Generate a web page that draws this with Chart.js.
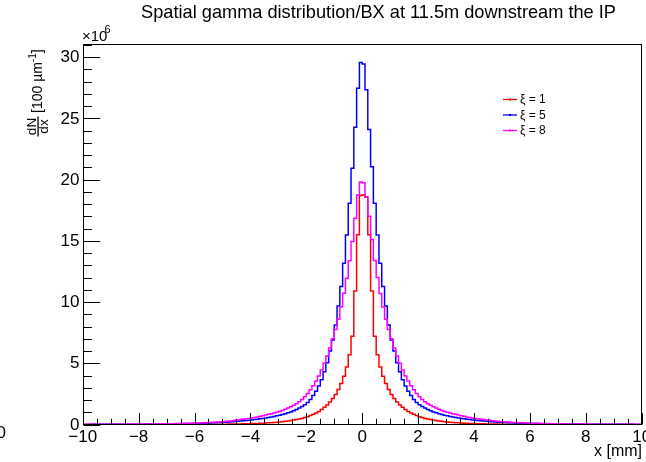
<!DOCTYPE html>
<html>
<head>
<meta charset="utf-8">
<script src="https://cdn.jsdelivr.net/npm/chart.js@4.4.1/dist/chart.umd.min.js"></script>
<style>
  html, body { margin: 0; padding: 0; background: #fff; }
</style>
</head>
<body>
<canvas id="gammaChart" width="646" height="462"></canvas>
<script>
// binning of the histograms: 200 bins of 0.1 mm between -10 and 10 mm
const xLow = -10;
const xHigh = 10;
const binWidth = 0.1;

const xTickValues = [-10, -8, -6, -4, -2, 0, 2, 4, 6, 8, 10];
const yTickValues = [0, 5, 10, 15, 20, 25, 30];

const seriesLabels = ['\u03be = 1', '\u03be = 5', '\u03be = 8'];
const seriesColors = ['#ff0000', '#0000ff', '#ff00ff'];

// dN/dx per bin (x10^6), bin -10.0..-9.9 first
const xi1 = [
  0.002,0.002,0.002,0.002,0.002,0.002,0.002,0.002,0.002,0.002,
  0.002,0.002,0.002,0.002,0.002,0.002,0.002,0.002,0.002,0.003,
  0.003,0.003,0.003,0.003,0.003,0.004,0.004,0.004,0.004,0.005,
  0.005,0.005,0.006,0.006,0.007,0.007,0.008,0.008,0.009,0.01,
  0.011,0.012,0.013,0.014,0.015,0.016,0.017,0.019,0.021,0.023,
  0.025,0.028,0.031,0.034,0.038,0.042,0.047,0.052,0.058,0.065,
  0.072,0.08,0.09,0.1,0.11,0.12,0.135,0.15,0.17,0.19,
  0.21,0.23,0.26,0.29,0.32,0.36,0.4,0.45,0.5,0.57,
  0.64,0.73,0.83,0.94,1.07,1.22,1.4,1.6,1.84,2.12,
  2.45,2.85,3.35,3.95,4.7,5.7,7.2,10.9,15.5,18.7,
  18.75,18.55,15.5,10.9,7.2,5.7,4.7,3.95,3.35,2.85,
  2.45,2.12,1.84,1.6,1.4,1.22,1.07,0.94,0.83,0.73,
  0.64,0.57,0.5,0.45,0.4,0.36,0.32,0.29,0.26,0.23,
  0.21,0.19,0.17,0.15,0.135,0.12,0.11,0.1,0.09,0.08,
  0.072,0.065,0.058,0.052,0.047,0.042,0.038,0.034,0.031,0.028,
  0.025,0.023,0.021,0.019,0.017,0.016,0.015,0.014,0.013,0.012,
  0.011,0.01,0.009,0.008,0.008,0.007,0.007,0.006,0.006,0.005,
  0.005,0.005,0.004,0.004,0.004,0.004,0.003,0.003,0.003,0.003,
  0.003,0.003,0.002,0.002,0.002,0.002,0.002,0.002,0.002,0.002,
  0.002,0.002,0.002,0.002,0.002,0.002,0.002,0.002,0.002,0.002
];

const xi5 = [
  0.01,0.01,0.01,0.011,0.012,0.013,0.014,0.015,0.016,0.017,
  0.018,0.019,0.02,0.021,0.022,0.023,0.024,0.025,0.026,0.027,
  0.028,0.03,0.032,0.034,0.036,0.038,0.04,0.043,0.046,0.049,
  0.052,0.055,0.058,0.062,0.066,0.07,0.075,0.08,0.085,0.09,
  0.095,0.1,0.11,0.115,0.12,0.13,0.14,0.15,0.16,0.17,
  0.18,0.19,0.21,0.22,0.24,0.26,0.28,0.3,0.32,0.34,
  0.37,0.4,0.43,0.46,0.5,0.54,0.58,0.62,0.66,0.71,
  0.76,0.82,0.88,0.95,1.03,1.12,1.22,1.34,1.47,1.62,
  1.8,2.05,2.36,2.72,3.15,3.65,4.3,5.05,6.0,6.9,
  8.13,9.68,11.26,13.17,15.48,18.07,20.93,24.28,27.47,29.56,
  29.45,27.33,24.1,21.06,18.07,15.48,13.17,11.26,9.68,8.13,
  6.9,6.0,5.05,4.3,3.65,3.15,2.72,2.36,2.05,1.8,
  1.62,1.47,1.34,1.22,1.12,1.03,0.95,0.88,0.82,0.76,
  0.71,0.66,0.62,0.58,0.54,0.5,0.46,0.43,0.4,0.37,
  0.34,0.32,0.3,0.28,0.26,0.24,0.22,0.21,0.19,0.18,
  0.17,0.16,0.15,0.14,0.13,0.12,0.115,0.11,0.1,0.095,
  0.09,0.085,0.08,0.075,0.07,0.066,0.062,0.058,0.055,0.052,
  0.049,0.046,0.043,0.04,0.038,0.036,0.034,0.032,0.03,0.028,
  0.027,0.026,0.025,0.024,0.023,0.022,0.021,0.02,0.019,0.018,
  0.017,0.016,0.015,0.014,0.013,0.012,0.011,0.01,0.01,0.01
];

const xi8 = [
  0.011,0.012,0.013,0.014,0.015,0.016,0.017,0.018,0.019,0.02,
  0.021,0.022,0.023,0.024,0.025,0.026,0.027,0.028,0.03,0.032,
  0.034,0.036,0.038,0.04,0.042,0.045,0.048,0.051,0.054,0.057,
  0.06,0.065,0.07,0.075,0.08,0.085,0.09,0.095,0.1,0.11,
  0.12,0.13,0.14,0.15,0.16,0.17,0.18,0.2,0.21,0.23,
  0.25,0.27,0.29,0.31,0.34,0.37,0.4,0.43,0.46,0.5,
  0.54,0.58,0.62,0.67,0.72,0.77,0.83,0.88,0.94,1.0,
  1.07,1.15,1.24,1.34,1.45,1.57,1.7,1.86,2.04,2.27,
  2.53,2.83,3.17,3.55,3.97,4.45,5.0,5.6,6.25,7.0,
  7.75,8.6,9.62,10.72,11.94,13.38,14.94,16.85,18.75,19.8,
  19.75,18.6,17.0,15.1,13.4,12.0,10.7,9.6,8.6,7.75,
  7.0,6.25,5.6,5.0,4.45,3.97,3.55,3.17,2.83,2.53,
  2.27,2.04,1.86,1.7,1.57,1.45,1.34,1.24,1.15,1.07,
  1.0,0.94,0.88,0.83,0.77,0.72,0.67,0.62,0.58,0.54,
  0.5,0.46,0.43,0.4,0.37,0.34,0.31,0.29,0.27,0.25,
  0.23,0.21,0.2,0.18,0.17,0.16,0.15,0.14,0.13,0.12,
  0.11,0.1,0.095,0.09,0.085,0.08,0.075,0.07,0.065,0.06,
  0.057,0.054,0.051,0.048,0.045,0.042,0.04,0.038,0.036,0.034,
  0.032,0.03,0.028,0.027,0.026,0.025,0.024,0.023,0.022,0.021,
  0.02,0.019,0.018,0.017,0.016,0.015,0.014,0.013,0.012,0.011
];

const FONT = '"Liberation Sans", Arial, sans-serif';

// one point per bin low edge + a closing point at the high edge;
// stepped 'before' keeps each bin's value until the next edge
function histPoints(values) {
  const pts = values.map((v, i) => ({ x: +(xLow + i * binWidth).toFixed(2), y: v }));
  pts.push({ x: xHigh, y: values[values.length - 1] });
  return pts;
}

function axisNum(v) {
  return v < 0 ? '\u2212' + Math.abs(v) : String(v);
}

// ROOT-like frame, inward ticks, labels, titles and legend
const rootDecor = {
  id: 'rootDecor',
  afterDraw(chart) {
    const ctx = chart.ctx;
    const a = chart.chartArea;
    const xs = chart.scales.x;
    const ys = chart.scales.y;
    ctx.save();
    ctx.strokeStyle = '#000';
    ctx.lineWidth = 1;

    // frame
    const L = Math.round(a.left) + 0.5, R = Math.round(a.right) - 0.5;
    const T = Math.round(a.top) + 0.5, B = Math.round(a.bottom) - 0.5;
    ctx.strokeRect(L, T, R - L, B - T);

    // x ticks (major every 2, minor every 0.5)
    ctx.beginPath();
    for (let v = xs.min; v <= xs.max + 1e-9; v += 0.5) {
      const px = Math.round(xs.getPixelForValue(v)) + 0.5;
      const major = Math.abs(v / 2 - Math.round(v / 2)) < 1e-9;
      ctx.moveTo(px, B);
      ctx.lineTo(px, B - (major ? 11.4 : 5.7));
    }
    // y ticks (major every 5, minor every 1)
    for (let v = 0; v <= ys.max + 1e-9; v += 1) {
      const py = Math.round(ys.getPixelForValue(v)) + 0.5;
      const major = v % 5 === 0;
      ctx.moveTo(L, py);
      ctx.lineTo(L + (major ? 16.8 : 8.4), py);
    }
    ctx.stroke();

    ctx.fillStyle = '#000';
    // tick labels from the scales' ticks
    ctx.font = '17px ' + FONT;
    ctx.textAlign = 'center';
    ctx.textBaseline = 'middle';
    xs.ticks.forEach(t => {
      ctx.fillText(axisNum(t.value), xs.getPixelForValue(t.value), 437);
    });
    ctx.textAlign = 'right';
    ys.ticks.forEach(t => {
      ctx.fillText(axisNum(t.value), 79.5, ys.getPixelForValue(t.value) + 0.5);
    });

    // title
    ctx.font = '18.2px ' + FONT;
    ctx.textAlign = 'center';
    ctx.fillText('Spatial gamma distribution/BX at 11.5m downstream the IP', 378.5, 13);

    // exponent
    ctx.textAlign = 'left';
    ctx.textBaseline = 'alphabetic';
    ctx.font = '15px ' + FONT;
    ctx.fillText('\u00d710', 82, 41);
    ctx.font = '11px ' + FONT;
    ctx.fillText('6', 104.5, 33);

    // x title
    ctx.font = '16px ' + FONT;
    ctx.textAlign = 'right';
    ctx.textBaseline = 'middle';
    ctx.fillText('x [mm]', 642, 452);

    // stray label at the left edge
    ctx.font = '17px ' + FONT;
    ctx.fillText('0', 6, 433);

    // y title, rotated
    ctx.save();
    ctx.translate(38, 0);
    ctx.rotate(-Math.PI / 2);
    ctx.textBaseline = 'middle';
    ctx.textAlign = 'center';
    ctx.font = '13.5px ' + FONT;
    ctx.fillText('dN', -126.5, -6);
    ctx.fillText('dx', -126.5, 6.5);
    ctx.fillRect(-136.5, -0.6, 20, 1.3);
    ctx.textAlign = 'left';
    ctx.font = '14px ' + FONT;
    let tx = -113;
    ctx.fillText('[100 \u00b5m', tx, 0);
    tx += ctx.measureText('[100 \u00b5m').width;
    ctx.font = '10px ' + FONT;
    ctx.fillText('-1', tx, -5);
    tx += ctx.measureText('-1').width;
    ctx.font = '14px ' + FONT;
    ctx.fillText(']', tx, 0);
    ctx.restore();

    // legend
    const rows = [99.5, 115, 130.5];
    chart.data.datasets.forEach((ds, i) => {
      const y = rows[i];
      ctx.strokeStyle = ds.borderColor;
      ctx.lineWidth = 1.3;
      ctx.beginPath();
      ctx.moveTo(503, y);
      ctx.lineTo(517, y);
      ctx.stroke();
      ctx.fillStyle = ds.borderColor;
      ctx.fillRect(509, y - 1, 2, 2);
      ctx.fillStyle = '#000';
      ctx.font = '12px ' + FONT;
      ctx.textAlign = 'left';
      ctx.textBaseline = 'middle';
      ctx.fillText(ds.label, 520, y + 0.5);
    });
    ctx.restore();
  }
};

const seriesData = [xi1, xi5, xi8];

new Chart(document.getElementById('gammaChart'), {
  type: 'line',
  data: {
    datasets: seriesData.map((vals, i) => ({
      label: seriesLabels[i],
      data: histPoints(vals),
      borderColor: seriesColors[i],
      borderWidth: 1.5,
      stepped: 'before',
      pointRadius: 0,
      fill: false,
      order: 3 - i
    }))
  },
  options: {
    responsive: false,
    animation: false,
    events: [],
    layout: { padding: { top: 44.3, right: 4.3, left: 0, bottom: 0 } },
    plugins: {
      legend: { display: false },
      tooltip: { enabled: false }
    },
    scales: {
      x: {
        type: 'linear',
        min: xLow,
        max: xHigh,
        grid: { display: false, drawTicks: false },
        border: { display: false },
        ticks: { display: false },
        afterBuildTicks: s => { s.ticks = xTickValues.map(v => ({ value: v })); },
        afterFit: s => { s.height = 37.5; s.paddingLeft = 0; s.paddingRight = 0; }
      },
      y: {
        min: 0,
        max: 31.05,
        grid: { display: false, drawTicks: false },
        border: { display: false },
        ticks: { display: false },
        afterBuildTicks: s => { s.ticks = yTickValues.map(v => ({ value: v })); },
        afterFit: s => { s.width = 82.7; s.paddingTop = 0; s.paddingBottom = 0; }
      }
    }
  },
  plugins: [rootDecor]
});
</script>
</body>
</html>
